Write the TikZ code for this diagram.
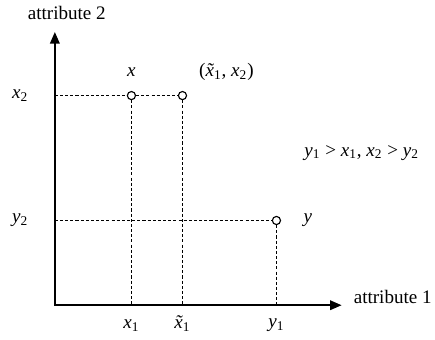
\documentclass[tikz,border=0pt]{standalone}
\usepackage{fontspec}
\setmainfont{Liberation Serif}
\usetikzlibrary{arrows.meta}
\usetikzlibrary{positioning}

\newcommand{\vr}[2]{\textit{#1}\textsubscript{#2}}
\newcommand{\xtl}{\ooalign{\textit{x}\cr\hidewidth\textit{\char"02DC}\hidewidth\cr}}

\begin{document}
\begin{tikzpicture}[
    font=\fontsize{10}{12}\selectfont,
    axis/.style={line width=0.8pt, {Triangle[length=6pt,width=5pt]}-{Triangle[length=6pt,width=5pt]}},
    guide/.style={dash pattern=on 1.6pt off 1.1pt, line width=0.4pt},
    pnt/.style={circle, draw=black, fill=white, line width=0.6pt, minimum size=0.15cm, inner sep=0pt}
]
\useasboundingbox (-1.01,-0.63) rectangle (7.0,5.62);
% Axes
\coordinate (o) at (0,0);
\coordinate (ytop) at (0,5.03);
\coordinate (xend) at (5.28,0);
\draw[axis] (ytop) -- (o) -- (xend);
\node (att2) at (0.22,5.39) {attribute 2};
\node[right=0.1cm of xend, yshift=0.15cm] (att1) {attribute 1};
% Points
\node[pnt] (px) at (1.41,3.86) {};
\node[pnt] (pxt) at (2.35,3.86) {};
\node[pnt] (py) at (4.08,1.56) {};
\node (lx) at (1.41,4.29) {\textit{x}};
\node (lxt) at (3.16,4.29) {(\vr{\xtl}{1}, \vr{x}{2})};
\node (ly) at (4.66,1.56) {\textit{y}};
\node (cond) at (5.65,2.81) {\vr{y}{1} > \vr{x}{1}, \vr{x}{2} > \vr{y}{2}};
% Tick labels
\node (tx1) at (1.41,-0.37) {\vr{x}{1}};
\node (txt1) at (2.35,-0.37) {\vr{\xtl}{1}};
\node (ty1) at (4.08,-0.37) {\vr{y}{1}};
\node (tx2) at (-0.64,3.86) {\vr{x}{2}};
\node (ty2) at (-0.64,1.56) {\vr{y}{2}};
% Guides
\draw[guide] (o |- px) -- (px);
\draw[guide] (px) -- (pxt);
\draw[guide] (px) -- (px |- o);
\draw[guide] (pxt) -- (pxt |- o);
\draw[guide] (o |- py) -- (py);
\draw[guide] (py) -- (py |- o);

\end{tikzpicture}
\end{document}
